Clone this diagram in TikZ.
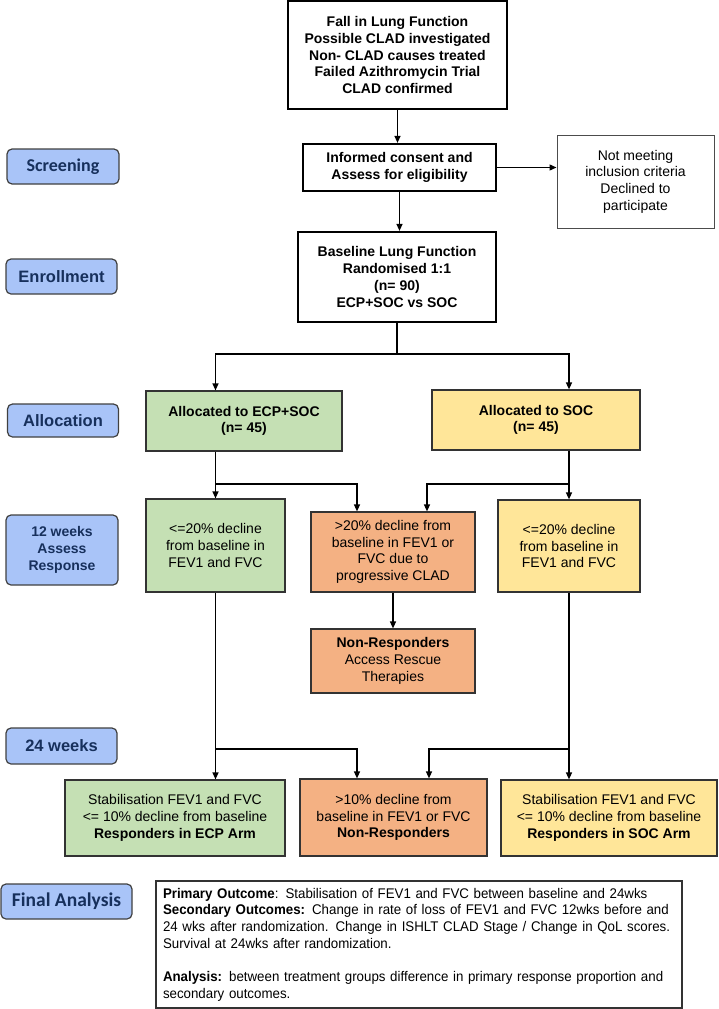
\documentclass[tikz,border=0pt]{standalone}
\usepackage{fontspec}
\setmainfont{Liberation Sans}
\newfontfamily\calfont{Carlito}
\newfontfamily\narrowfont[FakeStretch=0.95]{Liberation Sans}
\usetikzlibrary{arrows.meta}
\definecolor{ecpgreen}{HTML}{C5E0B4}
\definecolor{socyellow}{HTML}{FFE699}
\definecolor{nonorange}{HTML}{F4B183}
\definecolor{stagefill}{HTML}{A9C4F8}
\definecolor{stagetext}{HTML}{17305C}

\begin{document}
\begin{tikzpicture}[x=1pt,y=-1pt,
  font=\fontsize{14}{16.7}\selectfont,
  box/.style={draw=black!80, line width=1.2pt, align=center, inner sep=0pt},
  heavybox/.style={box, draw=black, line width=2.2pt, font=\fontsize{14}{16.7}\selectfont\bfseries},
  ecpbox/.style={box, fill=ecpgreen},
  socbox/.style={box, fill=socyellow},
  nrbox/.style={box, fill=nonorange},
  stage/.style={draw=black!75, line width=1.2pt, fill=stagefill, text=stagetext, rounded corners=5pt,
    align=center, inner sep=0pt, font=\fontsize{16.5}{19}\selectfont\bfseries},
  arr/.style={-{Triangle[length=7pt,width=6pt]}, line width=1.3pt}]
\useasboundingbox (0,0) rectangle (718,1009);

% stages on the left
\node[stage, minimum width=112pt, minimum height=35pt, font=\calfont\fontsize{18}{20}\selectfont\bfseries] (screen) at (63,166.5) {Screening};
\node[stage, minimum width=111pt, minimum height=35pt] (enrol) at (61.5,276.5) {Enrollment};
\node[stage, minimum width=111pt, minimum height=33pt] (alloc) at (63,420.5) {Allocation};
\node[stage, minimum width=112pt, minimum height=70pt, font=\fontsize{14}{16.7}\selectfont\bfseries] (wk12) at (62,550) {12 weeks\\Assess\\Response};
\node[stage, minimum width=111pt, minimum height=36pt] (wk24) at (61.5,746) {24 weeks};
\node[stage, minimum width=131pt, minimum height=35pt, font=\calfont\fontsize{19.5}{22}\selectfont\bfseries] (final) at (66.5,901.5) {Final Analysis};

% screening and enrolment
\node[heavybox, minimum width=219pt, minimum height=108pt] (clad) at (397.5,55)
  {Fall in Lung Function\\Possible CLAD investigated\\Non- CLAD causes treated\\Failed Azithromycin Trial\\CLAD confirmed};
\node[heavybox, minimum width=193pt, minimum height=47pt] (consent) at (399.5,167.5)
  {Informed consent and\\Assess for eligibility};
\node[box, draw=black!70, line width=1pt, minimum width=157pt, minimum height=93pt] (excl) at (635.5,181.5)
  {Not meeting\\inclusion criteria\\Declined to\\participate};
\node[heavybox, minimum width=198pt, minimum height=90pt] (base) at (397,277)
  {Baseline Lung Function\\Randomised 1:1\\(n= 90)\\ECP+SOC vs SOC};

% allocation
\node[ecpbox, minimum width=196pt, minimum height=60pt, font=\fontsize{14}{16.7}\selectfont\bfseries] (allocecp) at (244,421)
  {Allocated to ECP+SOC\\(n= 45)};
\node[socbox, minimum width=208pt, minimum height=60pt, font=\fontsize{14}{16.7}\selectfont\bfseries] (allocsoc) at (536,420)
  {Allocated to SOC\\(n= 45)};

% 12 weeks
\node[ecpbox, minimum width=139pt, minimum height=93pt] (respecp) at (215.5,545.5)
  {<=20\% decline\\from baseline in\\FEV1 and FVC};
\node[nrbox, minimum width=164pt, minimum height=80pt] (prog) at (393,552)
  {>20\% decline from\\baseline in FEV1 or\\FVC due to\\progressive CLAD};
\node[socbox, minimum width=142pt, minimum height=92pt] (respsoc) at (569,546)
  {<=20\% decline\\from baseline in\\FEV1 and FVC};
\node[nrbox, minimum width=164pt, minimum height=64pt] (rescue) at (393,661)
  {\textbf{Non-Responders}\\Access Rescue\\Therapies};

% 24 weeks
\node[ecpbox, minimum width=220pt, minimum height=76pt] (endecp) at (175,818)
  {Stabilisation FEV1 and FVC\\<= 10\% decline from baseline\\\textbf{Responders in ECP Arm}};
\node[nrbox, minimum width=187pt, minimum height=77pt] (endnr) at (393.5,817.5)
  {>10\% decline from\\baseline in FEV1 or FVC\\\textbf{Non-Responders}};
\node[socbox, minimum width=216pt, minimum height=76pt] (endsoc) at (609,818)
  {Stabilisation FEV1 and FVC\\<= 10\% decline from baseline\\\textbf{Responders in SOC Arm}};

% outcomes
\node[box, draw=black!80, line width=1.2pt, text width=512pt, inner xsep=7pt, minimum height=127pt, align=left,
  font=\narrowfont\fontsize{14}{16.7}\selectfont] (outcome) at (419,944.5)
  {\textbf{Primary Outcome}: Stabilisation of FEV1 and FVC between baseline and 24wks\\
   \textbf{Secondary Outcomes:} Change in rate of loss of FEV1 and FVC 12wks before and\\
   24 wks after randomization. Change in ISHLT CLAD Stage / Change in QoL scores.\\
   Survival at 24wks after randomization.\\[16.7pt]
   \textbf{Analysis:} between treatment groups difference in primary response proportion and\\
   secondary outcomes.};

% junctions
\coordinate (split) at (397,354);
\coordinate (jecp) at (215.5,484);
\coordinate (jsoc) at (569,484);
\coordinate (kecp) at (215.5,749);
\coordinate (ksoc) at (569,749);

% connectors
\draw[arr] (clad.south) -- (clad.south |- consent.north);
\draw[arr] (consent.east) -- (consent.east -| excl.west);
\draw[arr] (consent.south) -- (consent.south |- base.north);
\draw[line width=1.3pt] (base.south) -- (split);
\draw[arr] (split) -| (respecp |- allocecp.north);
\draw[arr] (split) -| (respsoc |- allocsoc.north);
\draw[arr] (respecp |- allocecp.south) -- (respecp.north);
\draw[arr] (jecp) -| ([xshift=-36pt]prog.north);
\draw[arr] (respsoc |- allocsoc.south) -- (respsoc.north);
\draw[arr] (jsoc) -| ([xshift=34pt]prog.north);
\draw[arr] (prog) -- (rescue);
\draw[arr] (respecp.south) -- (respecp.south |- endecp.north);
\draw[arr] (kecp) -| ([xshift=-36.5pt]endnr.north);
\draw[arr] (respsoc.south) -- (respsoc.south |- endsoc.north);
\draw[arr] (ksoc) -| ([xshift=35.5pt]endnr.north);
\end{tikzpicture}
\end{document}
